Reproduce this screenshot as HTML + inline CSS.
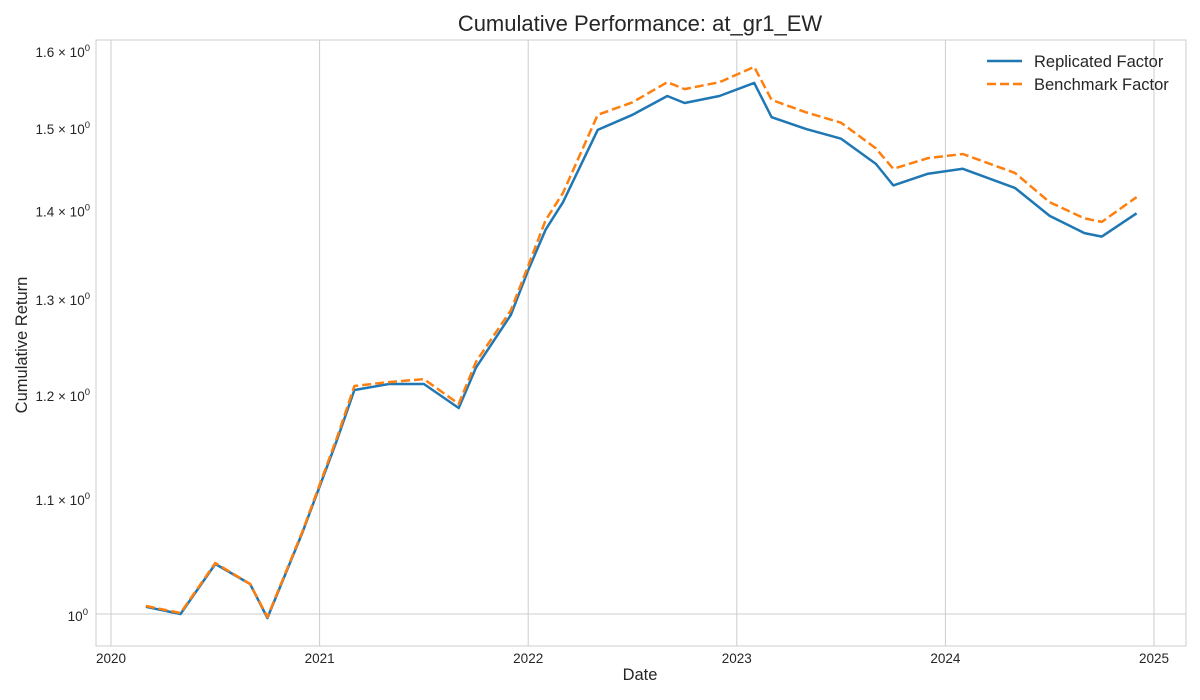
<!DOCTYPE html>
<html><head><meta charset="utf-8"><style>
body{margin:0;background:#fff;}
svg{display:block;font-family:"Liberation Sans",Arial,sans-serif;}
</style></head><body>
<svg id="chart" width="1200" height="700">
<rect width="1200" height="700" fill="#fff"/>
<text x="640" y="31" text-anchor="middle" font-size="22" fill="#262626">Cumulative Performance: at_gr1_EW</text>
<text x="640" y="680" text-anchor="middle" font-size="16.5" fill="#262626">Date</text>
<text transform="translate(27,345) rotate(-90)" text-anchor="middle" font-size="16.5" fill="#262626">Cumulative Return</text>
<g id="grid"></g>
<g id="ticks"></g>
<g id="series"></g>
<rect x="96" y="40" width="1090" height="606" fill="none" stroke="#cccccc" stroke-width="1"/>
<g>
<line x1="987" y1="61" x2="1022" y2="61" stroke="#1f77b4" stroke-width="2.5"/>
<text x="1034" y="67" font-size="16.5" fill="#262626">Replicated Factor</text>
<line x1="987" y1="84" x2="1022" y2="84" stroke="#ff7f0e" stroke-width="2.5" stroke-dasharray="9,4"/>
<text x="1034" y="90" font-size="16.5" fill="#262626">Benchmark Factor</text>
</g>
</svg>
<script>
const months = [2,4,6,8,9,11,13,14,16,18,20,21,23,24,25,26,28,30,32,33,35,37,38,40,42,44,45,47,49,52,54,56,57,59];
const replicated = [1.006,1.000,1.0427,1.0254,0.9967,1.070,1.1566,1.206,1.212,1.212,1.188,1.229,1.284,1.333,1.379,1.411,1.499,1.518,1.542,1.533,1.542,1.559,1.515,1.500,1.488,1.457,1.431,1.445,1.451,1.428,1.395,1.375,1.371,1.398];
const benchmark = [1.0067,1.0008,1.0436,1.0254,0.9975,1.071,1.159,1.210,1.214,1.217,1.192,1.235,1.289,1.338,1.390,1.422,1.518,1.534,1.560,1.551,1.560,1.580,1.537,1.521,1.508,1.476,1.451,1.464,1.469,1.446,1.411,1.392,1.388,1.417];
const yearTicks = [2020,2021,2022,2023,2024,2025];
const yTickValues = [1.1,1.2,1.3,1.4,1.5,1.6];
const yTickLabels = ["1.1","1.2","1.3","1.4","1.5","1.6"];

const NS = "http://www.w3.org/2000/svg";
const X0 = 111, PX_PER_YEAR = 208.6;
const Y1 = 614, PX_PER_LN = 1196;
function xScale(year){ return X0 + (year - 2020) * PX_PER_YEAR; }
function xMonth(m){ return xScale(2020 + m / 12); }
function yScale(v){ return Y1 - Math.log(v) * PX_PER_LN; }
function mk(tag, attrs){ const e = document.createElementNS(NS, tag); for (const k in attrs) e.setAttribute(k, attrs[k]); return e; }

const grid = document.getElementById('grid');
const ticks = document.getElementById('ticks');
yearTicks.forEach(y => {
  const x = xScale(y);
  const l = mk('line', {x1:x, y1:40, x2:x, y2:646, stroke:'#cccccc', 'stroke-width':1});
  
  
  grid.appendChild(l);
  const t = mk('text', {x:x, y:663, 'text-anchor':'middle', 'font-size':13.5, fill:'#262626'});
  t.textContent = String(y);
  
  
  ticks.appendChild(t);
});
const gl = mk('line', {x1:96, y1:yScale(1), x2:1186, y2:yScale(1), stroke:'#cccccc', 'stroke-width':1});


grid.appendChild(gl);
const t0 = mk('text', {x:88, y:yScale(1)+7, 'text-anchor':'end', 'font-size':13.5, fill:'#262626'});
t0.innerHTML = '10<tspan dy="-6" font-size="9.5">0</tspan>';


ticks.appendChild(t0);
yTickValues.forEach((v, i) => {
  const t = mk('text', {x:90, y:yScale(v)+5, 'text-anchor':'end', 'font-size':13.5, fill:'#262626'});
  t.innerHTML = yTickLabels[i] + ' \u00d7 10<tspan dy="-6" font-size="9.5">0</tspan>';
  
  
  ticks.appendChild(t);
});

const series = document.getElementById('series');
function pts(arr){ return arr.map((v, i) => xMonth(months[i]).toFixed(1) + ',' + yScale(v).toFixed(1)).join(' '); }
const p1 = mk('polyline', {points:pts(replicated), fill:'none', stroke:'#1f77b4', 'stroke-width':2.5, 'stroke-linejoin':'round'});


series.appendChild(p1);
const p2 = mk('polyline', {points:pts(benchmark), fill:'none', stroke:'#ff7f0e', 'stroke-width':2.5, 'stroke-dasharray':'9,4', 'stroke-linejoin':'round'});


series.appendChild(p2);
</script>
</body></html>
